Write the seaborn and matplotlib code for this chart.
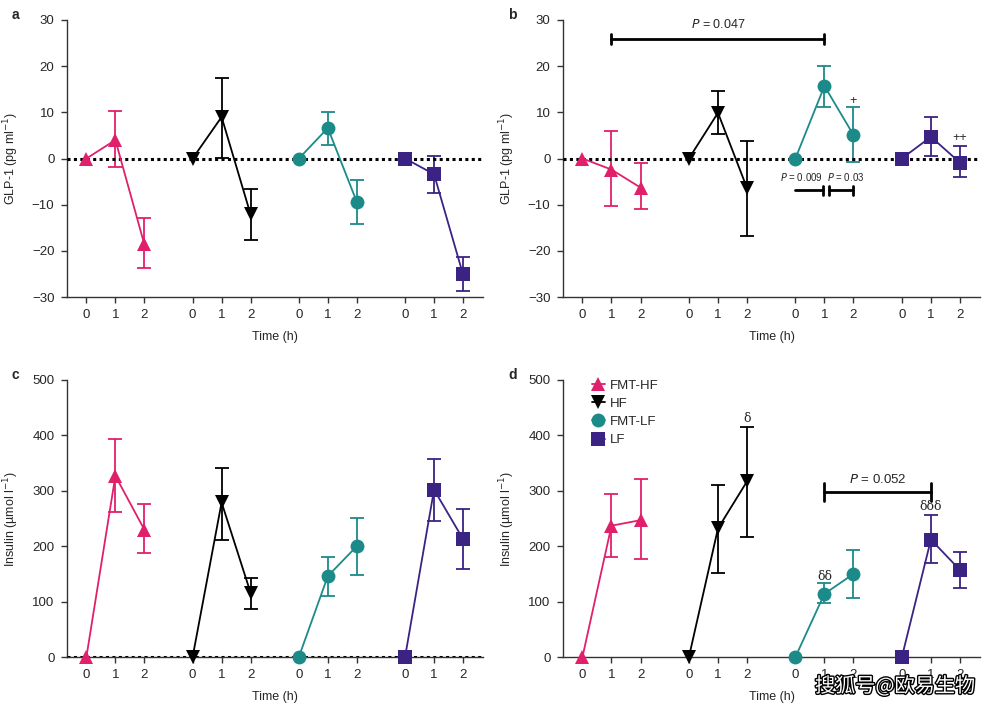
import numpy as np
import pandas as pd
import seaborn as sns
import matplotlib.pyplot as plt
import matplotlib.patheffects as pe
from matplotlib.lines import Line2D

# 1. data
groups = ['FMT-HF', 'HF', 'FMT-LF', 'LF']
times = [0, 1, 2]
colors = {'FMT-HF': '#e0206a', 'HF': '#000000', 'FMT-LF': '#1d8a8a', 'LF': '#3b2384'}
markers = {'FMT-HF': '^', 'HF': 'v', 'FMT-LF': 'o', 'LF': 's'}

# GLP-1 (a) - mean, lower and upper error limits per group / time
glp_a = [[0, 4.0, -18.6], [0, 9.0, -12.1], [0, 6.6, -9.4], [0, -3.4, -25.1]]
glp_a_lo = [[0, -1.8, -23.7], [0, 0.1, -17.7], [0, 3.0, -14.1], [0, -7.4, -28.6]]
glp_a_hi = [[0, 10.3, -12.8], [0, 17.4, -6.7], [0, 10.1, -4.7], [0, 0.5, -21.3]]

# GLP-1 (b)
glp_b = [[0, -2.4, -6.3], [0, 9.9, -6.4], [0, 15.7, 5.1], [0, 4.7, -0.9]]
glp_b_lo = [[0, -10.3, -11.0], [0, 5.3, -16.8], [0, 11.2, -0.8], [0, 0.6, -4.0]]
glp_b_hi = [[0, 6.0, -0.9], [0, 14.6, 3.7], [0, 20.1, 11.1], [0, 8.9, 2.7]]

# Insulin (c)
ins_c = [[0, 327, 230], [0, 279, 116], [0, 146, 200], [0, 302, 213]]
ins_c_lo = [[0, 262, 187], [0, 212, 86], [0, 111, 148], [0, 246, 159]]
ins_c_hi = [[0, 393, 276], [0, 341, 143], [0, 180, 251], [0, 357, 267]]

# Insulin (d)
ins_d = [[0, 237, 247], [0, 232, 317], [0, 114, 150], [0, 212, 157]]
ins_d_lo = [[0, 181, 176], [0, 151, 217], [0, 98, 107], [0, 170, 125]]
ins_d_hi = [[0, 295, 321], [0, 311, 416], [0, 133, 194], [0, 256, 189]]

gap = 11 / 3  # spacing between groups on the time axis


def pos(g, t):
    return t + gap * g


# 2. style
sns.set_theme(style='ticks')
plt.rcParams['font.family'] = ['Liberation Sans', 'DejaVu Sans']
plt.rcParams['axes.unicode_minus'] = True


def draw_panel(ax, mean, lo, hi, ylim, yticks, ylabel, dots=True):
    rows = []
    for g, name in enumerate(groups):
        for t in times:
            rows.append({'pos': pos(g, t), 'grp': name, 'val': mean[g][t],
                         'lo': lo[g][t], 'hi': hi[g][t], 't': t})
    df = pd.DataFrame(rows)

    if dots:
        ax.axhline(0, color='black', ls=(0, (1, 1.1)), lw=2.2, zorder=3)

    for name in groups:
        d = df[(df.grp == name) & (df.t > 0)]
        ax.errorbar(d.pos, d.val, yerr=[d.val - d.lo, d.hi - d.val], fmt='none',
                    ecolor=colors[name], capsize=5, elinewidth=1.3, capthick=1.3, zorder=2)

    sns.lineplot(data=df, x='pos', y='val', hue='grp', style='grp', markers=markers,
                 dashes=False, palette=colors, markersize=10, linewidth=1.3,
                 markeredgewidth=0, legend=False, ax=ax, zorder=4, clip_on=False)

    ax.set_xlim(-0.67, 13.69)
    ax.set_ylim(*ylim)
    ax.set_yticks(yticks)
    ax.set_xticks([pos(g, t) for g in range(4) for t in times])
    ax.set_xticklabels([str(t) for g in range(4) for t in times])
    ax.set_xlabel('Time (h)', fontsize=9, labelpad=7)
    ax.set_ylabel(ylabel, fontsize=9, labelpad=8)
    ax.tick_params(labelsize=9.5, length=4, width=1, pad=5, color='#333333')
    for s in ['left', 'bottom']:
        ax.spines[s].set_linewidth(1)
        ax.spines[s].set_color('#333333')
    sns.despine(ax=ax)


def bracket(ax, x1, x2, y, h, caps=(True, True)):
    ax.plot([x1, x2], [y, y], color='black', lw=2)
    if caps[0]:
        ax.plot([x1, x1], [y - h, y + h], color='black', lw=2)
    if caps[1]:
        ax.plot([x2, x2], [y - h, y + h], color='black', lw=2)


fig = plt.figure(figsize=(10, 7.07), dpi=100)
W, H = 1000, 707
boxes = {'a': (67, 20, 483, 297), 'b': (563, 20, 980, 297),
         'c': (67, 380, 483, 657), 'd': (563, 380, 980, 657)}
axs = {}
for k, (l, t, r, b) in boxes.items():
    axs[k] = fig.add_axes([l / W, 1 - b / H, (r - l) / W, (b - t) / H])

glp_label = 'GLP-1 (pg ml$^{-1}$)'
ins_label = 'Insulin (µmol l$^{-1}$)'
draw_panel(axs['a'], glp_a, glp_a_lo, glp_a_hi, (-30, 30), [-30, -20, -10, 0, 10, 20, 30], glp_label)
draw_panel(axs['b'], glp_b, glp_b_lo, glp_b_hi, (-30, 30), [-30, -20, -10, 0, 10, 20, 30], glp_label)
draw_panel(axs['c'], ins_c, ins_c_lo, ins_c_hi, (0, 500), [0, 100, 200, 300, 400, 500], ins_label)
draw_panel(axs['d'], ins_d, ins_d_lo, ins_d_hi, (0, 500), [0, 100, 200, 300, 400, 500], ins_label, dots=False)

# 3. annotations panel b
ax = axs['b']
bracket(ax, pos(0, 1), pos(2, 1), 25.9, 1.0)
ax.text((pos(0, 1) + pos(2, 1)) / 2, 27.6, '$P$ = 0.047', ha='center', va='bottom', fontsize=9)
bracket(ax, pos(2, 0), pos(2, 1) - 0.05, -6.9, 0.9, caps=(False, True))
bracket(ax, pos(2, 1) + 0.15, pos(2, 2), -6.9, 0.9, caps=(True, True))
ax.text(pos(2, 0.2), -4.0, '$P$ = 0.009', ha='center', va='center', fontsize=7)
ax.text(pos(2, 1.72), -4.0, '$P$ = 0.03', ha='center', va='center', fontsize=7)
ax.text(pos(2, 2), 12.5, '+', ha='center', va='center', fontsize=9)
ax.text(pos(3, 2), 4.4, '++', ha='center', va='center', fontsize=9)

# annotations panel d
ax = axs['d']
bracket(ax, pos(2, 1), pos(3, 1), 298, 16)
ax.text((pos(2, 1) + pos(3, 1)) / 2, 308, '$P$ = 0.052', ha='center', va='bottom', fontsize=9.5)
ax.text(pos(1, 2), 430, 'δ', ha='center', va='center', fontsize=9, family=['DejaVu Serif'])
ax.text(pos(2, 1), 145, 'δδ', ha='center', va='center', fontsize=9, family=['DejaVu Serif'])
ax.text(pos(3, 1), 271, 'δδδ', ha='center', va='center', fontsize=9, family=['DejaVu Serif'])

handles = [Line2D([0], [0], color=colors[g], marker=markers[g], markersize=10, lw=1.3,
                  markeredgewidth=0, label=g) for g in groups]
ax.legend(handles=handles, loc='upper left', bbox_to_anchor=(0.04, 1.045), frameon=False,
          fontsize=9.5, handlelength=1.0, handletextpad=0.4, labelspacing=0.45)

for k, (l, t, r, b) in boxes.items():
    fig.text((l - 55) / W, 1 - (t - 5) / H, k, fontsize=10, fontweight='bold', va='center')

fig.text(0.815, 0.029, '搜狐号@欧易生物', fontsize=14.5, color='white', va='center',
         family=['Noto Sans CJK SC', 'DejaVu Sans'],
         path_effects=[pe.withStroke(linewidth=2, foreground='black')])

plt.savefig('out.png', dpi=100)
